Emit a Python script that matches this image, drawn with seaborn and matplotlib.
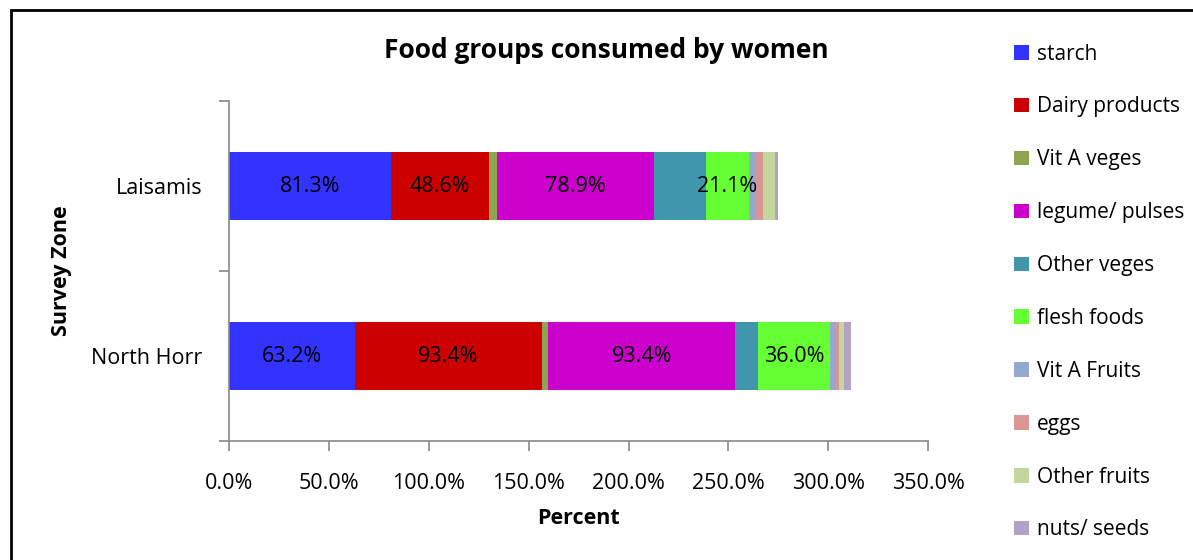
import numpy as np
import pandas as pd
import matplotlib
matplotlib.use("Agg")
import matplotlib.pyplot as plt
from matplotlib.patches import Patch, Rectangle
import seaborn as sns

# Data (percent of women consuming each food group)
zones = ['Laisamis', 'North Horr']
groups = ['starch', 'Dairy products', 'Vit A veges', 'legume/ pulses', 'Other veges',
          'flesh foods', 'Vit A Fruits', 'eggs', 'Other fruits', 'nuts/ seeds']
laisamis = [81.3, 48.6, 4.0, 78.9, 26.2, 21.1, 3.9, 3.3, 5.8, 1.7]
north_horr = [63.2, 93.4, 3.3, 93.4, 11.7, 36.0, 2.7, 1.7, 2.5, 3.7]
labelled = ['starch', 'Dairy products', 'legume/ pulses', 'flesh foods']

colors = ['#3333FF', '#CC0000', '#8EA44E', '#CC00CC', '#4096AA',
          '#66FF33', '#95A8D0', '#D99694', '#C3D69B', '#B2A2C7']

df = pd.DataFrame({'zone': np.repeat(zones, len(groups)),
                   'group': groups * len(zones),
                   'value': laisamis + north_horr})
df['cum'] = df.groupby('zone')['value'].cumsum()
df['mid'] = df['cum'] - df['value'] / 2

sns.set_theme(style="white")
plt.rcParams['font.family'] = ['Open Sans', 'DejaVu Sans']
plt.rcParams['text.color'] = 'black'
plt.rcParams['axes.labelcolor'] = 'black'
plt.rcParams['xtick.labelcolor'] = 'black'
plt.rcParams['ytick.labelcolor'] = 'black'
fs = 15.5

fig = plt.figure(figsize=(11.93, 5.6), dpi=100)
ax = fig.add_axes([0.192, 0.2125, 0.586, 0.607])

# stacked bars: draw cumulative totals from the last group back to the first
for g, c in reversed(list(zip(groups, colors))):
    sub = df[df['group'] == g]
    sns.barplot(data=sub, x='cum', y='zone', order=zones, color=c,
                width=0.4, saturation=1, linewidth=0, ax=ax)

for _, r in df[df['group'].isin(labelled)].iterrows():
    ax.text(r['mid'], zones.index(r['zone']), f"{r['value']:.1f}%",
            ha='center', va='center', fontsize=fs, color='black')

ax.set_xlim(0, 350)
ax.set_ylim(1.5, -0.5)
ax.set_xticks(np.arange(0, 351, 50))
ax.set_xticklabels([f"{v:.1f}%" for v in np.arange(0, 351, 50)], fontsize=fs)
ax.set_yticks([0, 1])
ax.set_yticklabels(zones, fontsize=fs)
ax.set_yticks([-0.5, 0.5, 1.5], minor=True)
ax.tick_params(axis='y', which='major', left=False, length=0, pad=19)
ax.tick_params(axis='y', which='minor', left=True, length=7, color='#888888', width=1.2)
ax.tick_params(axis='x', bottom=True, length=7, color='#888888', width=1.2, pad=16)
for s in ['top', 'right']:
    ax.spines[s].set_visible(False)
for s in ['left', 'bottom']:
    ax.spines[s].set_color('#888888')
    ax.spines[s].set_linewidth(1.2)

ax.set_xlabel('Percent', fontsize=fs, fontweight='bold', labelpad=10)
ax.set_ylabel('Survey Zone', fontsize=fs, fontweight='bold', labelpad=14)
fig.text(0.508, 0.91, 'Food groups consumed by women', ha='center', va='center',
         fontsize=19, fontweight='bold')

handles = [Patch(facecolor=c, edgecolor='none', label=g) for g, c in zip(groups, colors)]
fig.legend(handles=handles, loc='upper left', bbox_to_anchor=(0.843, 0.937),
           frameon=False, fontsize=15, handlelength=0.7, handleheight=0.7,
           handletextpad=0.4, labelspacing=1.53, borderaxespad=0)

fig.patches.append(Rectangle((11 / 1193, -0.05), 1.1, 1.05 - 10 / 560,
                             transform=fig.transFigure, fill=False,
                             edgecolor='black', linewidth=2))

fig.savefig('out.png', dpi=100)
